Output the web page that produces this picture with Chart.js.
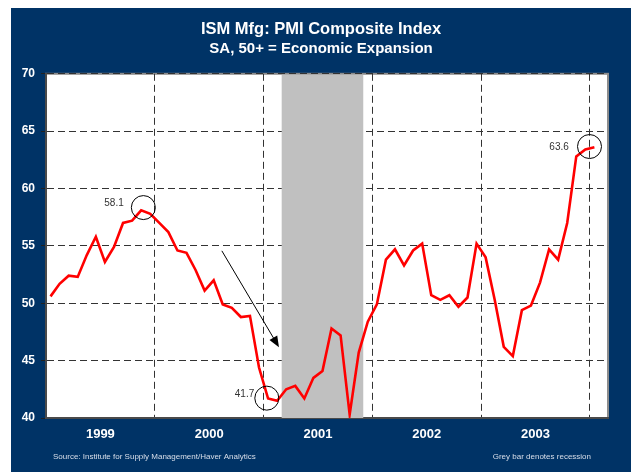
<!DOCTYPE html>
<html>
<head>
<meta charset="utf-8">
<script src="https://cdn.jsdelivr.net/npm/chart.js@4.4.1/dist/chart.umd.min.js"></script>
<style>
  html, body { margin: 0; padding: 0; background: #fff; }
  #wrap { position: absolute; left: 11px; top: 8px; width: 620px; height: 464px; background: #003366; }
</style>
</head>
<body>
<div id="wrap"><canvas id="pmiChart"></canvas></div>
<script>
// ISM PMI, monthly Jan 1999 - Jan 2004
var years = ['1999', '2000', '2001', '2002', '2003'];
var pmi = [
    50.6, 51.7, 52.4, 52.3, 54.2, 55.8, 53.6, 54.9, 57.0, 57.2, 58.1, 57.8,
    57.0, 56.2, 54.6, 54.4, 52.9, 51.1, 52.0, 49.9, 49.6, 48.8, 48.9, 44.4,
    41.7, 41.5, 42.5, 42.8, 41.7, 43.5, 44.1, 47.8, 47.2, 40.3, 45.7, 48.4,
    49.9, 53.8, 54.7, 53.3, 54.6, 55.2, 50.7, 50.3, 50.7, 49.7, 50.5, 55.2,
    54.0, 50.3, 46.2, 45.4, 49.4, 49.8, 51.8, 54.7, 53.8, 57.0, 62.8, 63.4,
    63.6
];
var recession = [26, 35]; // months from Jan 1999: Mar 2001 - Nov 2001
var yTicks = [40, 45, 50, 55, 60, 65, 70];

// call-outs: circled month, label text and where the label sits
var notes = [
    { month: 10, dx: 0.24, dy: 0.24, text: '58.1', tx: 7.5, ty: 58.75 },
    { month: 24, dx: -0.14, dy: 0.03, text: '41.7', tx: 21.9, ty: 42.1 },
    { month: 60, dx: -0.54, dy: 0.06, text: '63.6', tx: 56.6, ty: 63.64 }
];
var arrow = { x0: 19.4, y0: 54.57, x1: 25.7, y1: 46.17 };

var font = 'Liberation Sans, Arial, sans-serif';

var decor = {
    id: 'decor',
    beforeDraw: function (chart) {
        var c = chart.ctx, a = chart.chartArea;
        c.save();
        c.fillStyle = '#fff';
        c.fillRect(a.left, a.top, a.right - a.left, a.bottom - a.top);
        c.strokeStyle = '#8c8c8c';
        c.lineWidth = 2;
        c.strokeRect(a.left, a.top, a.right - a.left, a.bottom - a.top);
        c.restore();
    },
    beforeDatasetsDraw: function (chart) {
        var c = chart.ctx, a = chart.chartArea, x = chart.scales.x;
        var x0 = x.getPixelForValue(recession[0]);
        var x1 = x.getPixelForValue(recession[1]);
        c.save();
        c.fillStyle = '#c0c0c0';
        c.fillRect(x0, a.top + 1, x1 - x0, a.bottom - a.top - 1);
        c.restore();
    },
    afterDatasetsDraw: function (chart) {
        var c = chart.ctx, x = chart.scales.x, y = chart.scales.y;
        c.save();
        // circles and labels
        c.strokeStyle = '#000';
        c.lineWidth = 1;
        c.fillStyle = '#333';
        c.font = '10px ' + font;
        c.textAlign = 'center';
        c.textBaseline = 'middle';
        notes.forEach(function (n) {
            var cx = x.getPixelForValue(n.month + 0.5 + n.dx);
            var cy = y.getPixelForValue(pmi[n.month] + n.dy);
            c.beginPath();
            c.arc(cx, cy, 12, 0, Math.PI * 2);
            c.stroke();
            c.fillText(n.text, x.getPixelForValue(n.tx), y.getPixelForValue(n.ty));
        });
        // arrow
        var ax0 = x.getPixelForValue(arrow.x0), ay0 = y.getPixelForValue(arrow.y0);
        var ax1 = x.getPixelForValue(arrow.x1), ay1 = y.getPixelForValue(arrow.y1);
        var ang = Math.atan2(ay1 - ay0, ax1 - ax0);
        c.beginPath();
        c.moveTo(ax0, ay0);
        c.lineTo(ax1 - 8 * Math.cos(ang), ay1 - 8 * Math.sin(ang));
        c.stroke();
        c.fillStyle = '#000';
        c.beginPath();
        c.moveTo(ax1, ay1);
        c.lineTo(ax1 - 11 * Math.cos(ang) + 4.5 * Math.sin(ang), ay1 - 11 * Math.sin(ang) - 4.5 * Math.cos(ang));
        c.lineTo(ax1 - 11 * Math.cos(ang) - 4.5 * Math.sin(ang), ay1 - 11 * Math.sin(ang) + 4.5 * Math.cos(ang));
        c.closePath();
        c.fill();
        c.restore();
    },
    afterDraw: function (chart) {
        var c = chart.ctx;
        c.save();
        c.fillStyle = '#d8dfea';
        c.font = '8px ' + font;
        c.textBaseline = 'middle';
        c.textAlign = 'left';
        c.fillText('Source: Institute for Supply Management/Haver Analytics', 42, 449);
        c.textAlign = 'right';
        c.fillText('Grey bar denotes recession', 580, 449);
        c.restore();
    }
};

var ctx = document.getElementById('pmiChart').getContext('2d');
var pmiChart = new Chart(ctx, {
    type: 'line',
    data: {
        datasets: [{
            label: 'PMI',
            data: pmi.map(function (v, i) { return { x: i + 0.5, y: v }; }),
            borderColor: '#ff0000',
            borderWidth: 2.6,
            pointRadius: 0,
            tension: 0,
            fill: false
        }]
    },
    options: {
        responsive: true,
        maintainAspectRatio: false,
        animation: false,
        layout: { padding: 0 },
        plugins: {
            legend: { display: false },
            tooltip: { enabled: false },
            title: {
                display: true,
                text: 'ISM Mfg: PMI Composite Index',
                color: '#fff',
                font: { family: font, size: 16.5, weight: 'bold' },
                padding: { top: 12, bottom: 0 }
            },
            subtitle: {
                display: true,
                text: 'SA, 50+ = Economic Expansion',
                color: '#fff',
                font: { family: font, size: 15, weight: 'bold' },
                padding: { top: 0, bottom: 16 }
            }
        },
        scales: {
            x: {
                type: 'linear',
                min: 0,
                max: 62,
                afterFit: function (s) { s.height = 54; },
                afterBuildTicks: function (s) {
                    var t = [];
                    for (var v = 6; v <= 60; v += 6) t.push({ value: v });
                    s.ticks = t;
                },
                ticks: {
                    autoSkip: false,
                    maxRotation: 0,
                    padding: 9,
                    color: '#fff',
                    font: { family: font, size: 13, weight: 'bold' },
                    callback: function (v) { return v % 12 === 6 ? years[(v - 6) / 12] : ''; }
                },
                grid: {
                    drawTicks: false,
                    lineWidth: 1,
                    color: function (c) { return c.tick && c.tick.value % 12 === 0 ? '#333' : 'rgba(0,0,0,0)'; }
                },
                border: { display: true, color: '#4a4a4a', width: 2, dash: [7, 4] }
            },
            y: {
                position: 'left',
                min: 40,
                max: 70,
                afterFit: function (s) { s.width = 35; },
                afterBuildTicks: function (s) { s.ticks = yTicks.map(function (v) { return { value: v }; }); },
                ticks: {
                    padding: 6,
                    color: '#fff',
                    font: { family: font, size: 12, weight: 'bold' }
                },
                grid: {
                    color: '#333',
                    lineWidth: 1,
                    tickLength: 5,
                    tickColor: '#222',
                    tickBorderDash: []
                },
                border: { display: true, color: '#4a4a4a', width: 2, dash: [7, 4] }
            },
            // empty right-hand axis that only keeps the plot clear of the frame
            yRight: {
                type: 'linear',
                position: 'right',
                min: 40,
                max: 70,
                afterFit: function (s) { s.width = 23; },
                ticks: { display: false },
                grid: { display: false },
                border: { display: false }
            }
        }
    },
    plugins: [decor]
});
</script>
</body>
</html>
